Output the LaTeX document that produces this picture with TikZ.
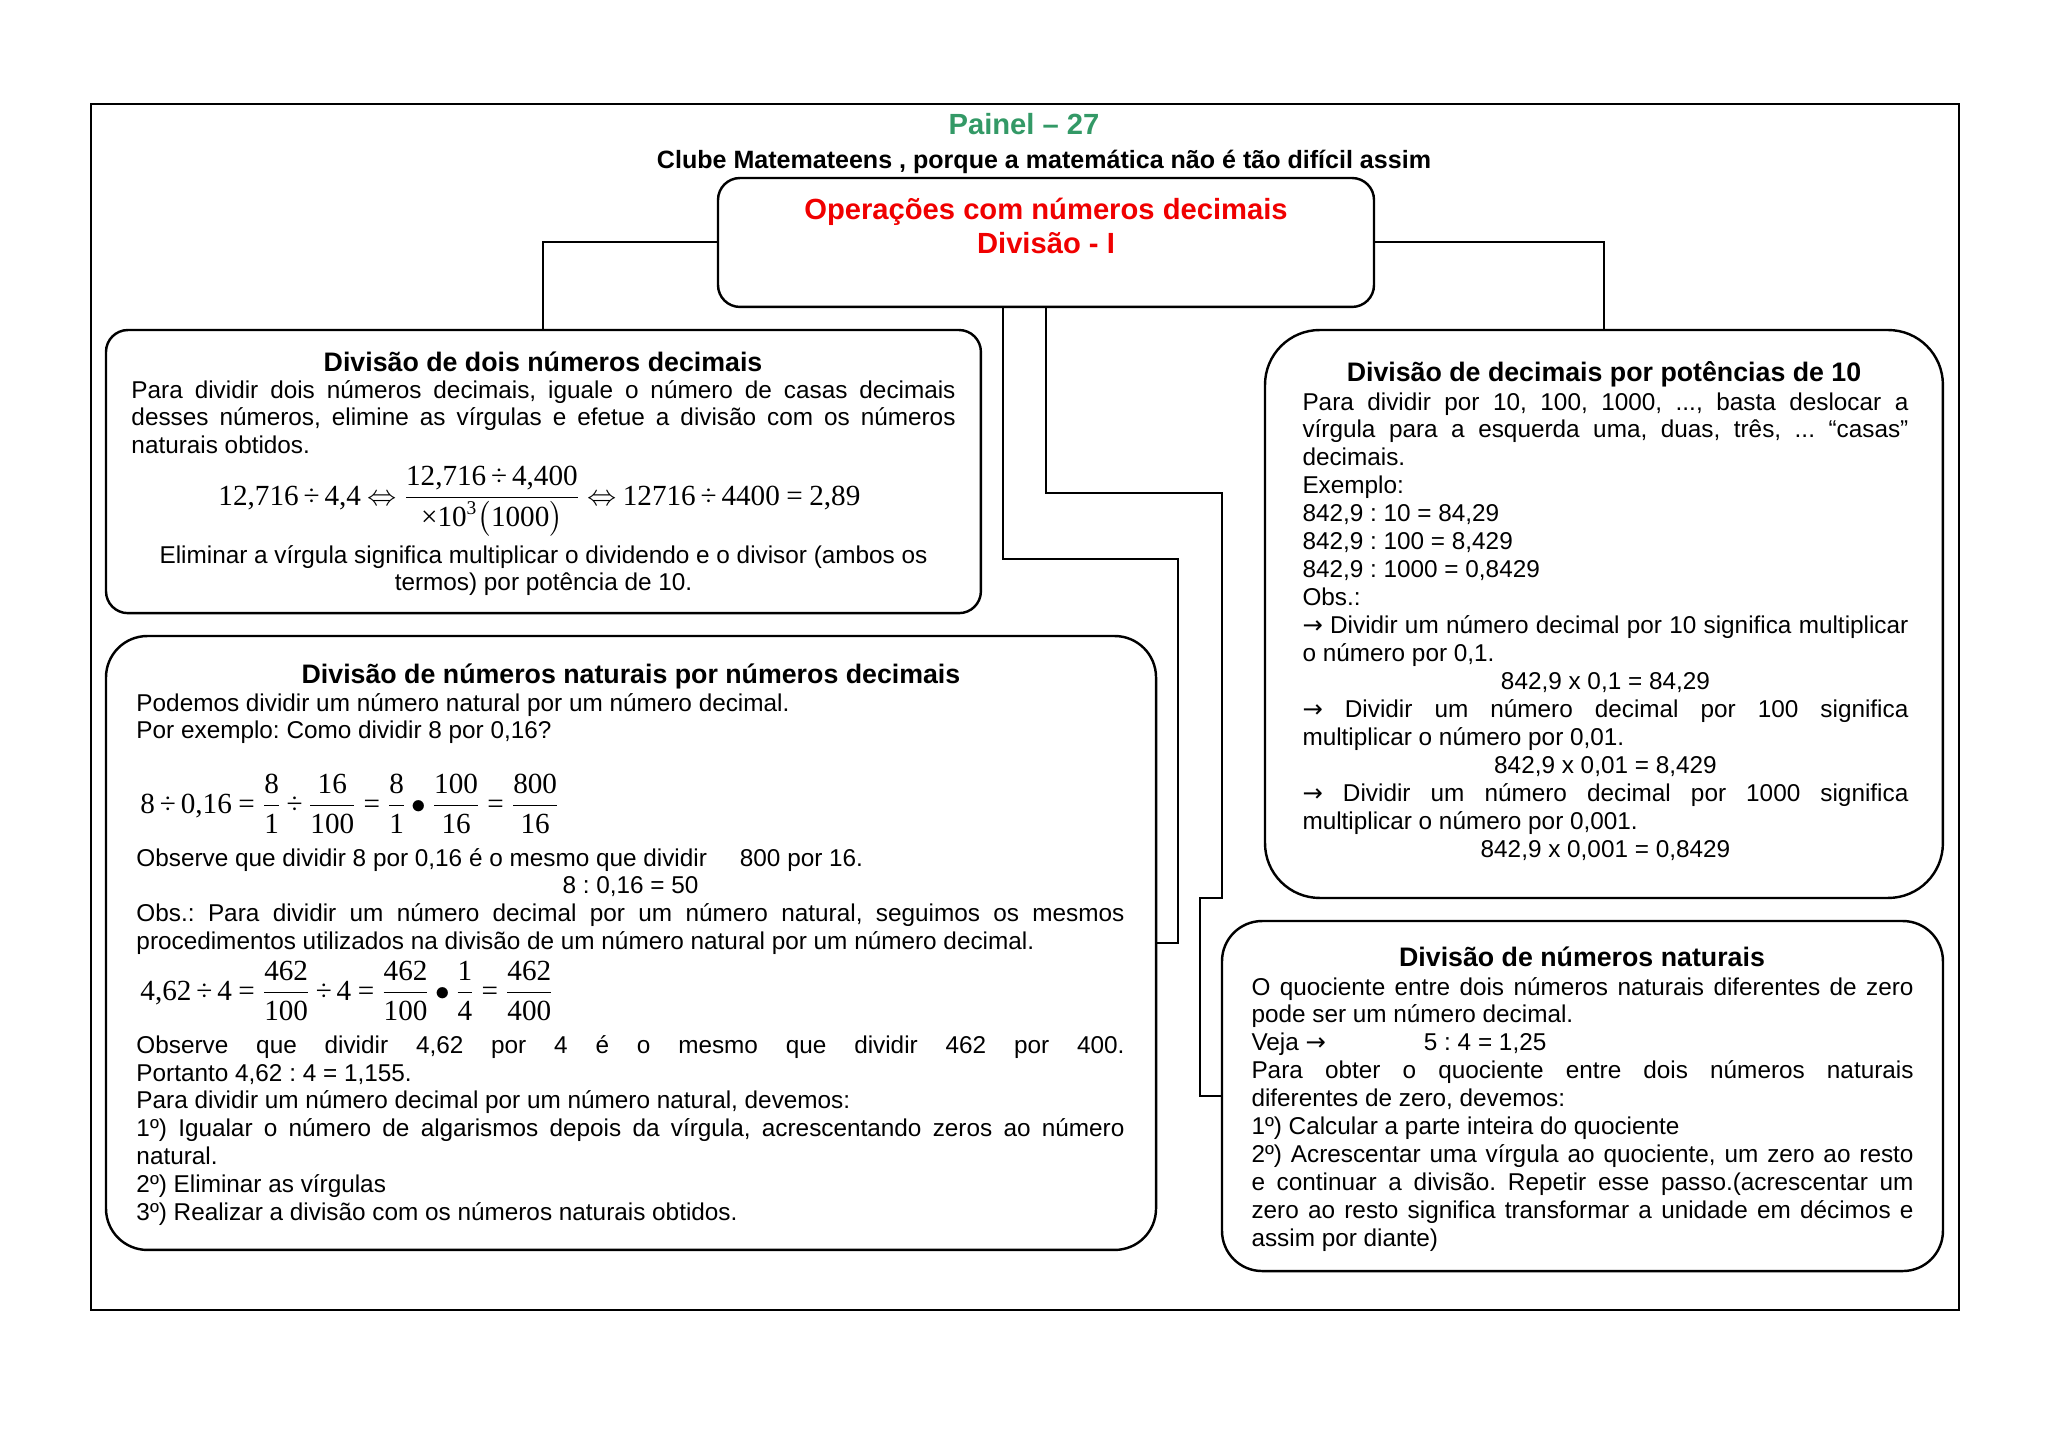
\documentclass[tikz,border=0pt]{standalone}
\usepackage{amsmath}
\usepackage{fontspec}
\setmainfont{Liberation Sans}
\newfontfamily\tnr{Liberation Serif}
\newfontfamily\dvs{DejaVu Sans}
\usetikzlibrary{calc}
\definecolor{painelgreen}{RGB}{51,153,102}
\definecolor{titlered}{RGB}{240,0,0}
\newcommand\bodyfont{\fontsize{10}{11.5}\selectfont\frenchspacing}
\newcommand\jl[1]{\makebox[\linewidth][s]{#1}\par}
\newcommand\cl[1]{\makebox[\linewidth][c]{#1}\par}
\newcommand\tn[1]{\text{\tnr #1}}
\newcommand\tdiv{\mathbin{\text{\tnr ÷}}}
\newcommand\teq{\mathrel{\text{\tnr =}}}
\newcommand\ttimes{\text{\tnr ×}}
\newcommand\rarr{{\dvs →}}
\newcommand\eqsp{\medmuskip=3mu\thickmuskip=4mu}
\begin{document}
\begin{tikzpicture}[x=0.41113pt,y=-0.41113pt,
  box/.style={draw, line width=1pt, anchor=north west, inner sep=0pt, outer sep=0pt},
  conn/.style={draw, line width=0.8pt},
  blk/.style={anchor=base west, inner sep=0pt},
  head/.style={anchor=base, inner sep=0pt, font=\fontsize{11}{13}\selectfont\bfseries},
  eqn/.style={anchor=base west, inner sep=0pt, font=\fontsize{12}{14}\selectfont},
]
\useasboundingbox (0,0) rectangle (2048,1448);

% outer frame
\node[draw, line width=0.8pt, anchor=north west, inner sep=0pt, minimum width=768.0pt, minimum height=495.8pt] (frame) at (90,103) {};

% titles
\node[anchor=base, inner sep=0pt, font=\fontsize{12}{14}\selectfont\bfseries, text=painelgreen] (title) at (1024,134) {Painel – 27};
\node[anchor=base, inner sep=0pt, font=\fontsize{10.3}{12}\selectfont\bfseries] (sub) at (1044,168) {Clube Matemateens , porque a matemática não é tão difícil assim};

% main box
\node[box, rounded corners=9pt, minimum width=269.7pt, minimum height=53.0pt] (main) at (718,178) {};
\node[anchor=base, inner sep=0pt, font=\fontsize{12}{14}\selectfont\bfseries, text=titlered] (mt1) at (1046,219) {Operações com números decimais};
\node[anchor=base, inner sep=0pt, font=\fontsize{12}{14}\selectfont\bfseries, text=titlered] (mt2) at (1046,253) {Divisão - I};

% boxes
\node[box, rounded corners=9pt, minimum width=359.7pt, minimum height=116.4pt] (b1) at (106,330) {};
\node[box, rounded corners=17pt, minimum width=431.7pt, minimum height=252.4pt] (b2) at (106,636) {};
\node[box, rounded corners=22.5pt, minimum width=278.7pt, minimum height=233.5pt] (r1) at (1265,330) {};
\node[box, rounded corners=16.5pt, minimum width=296.4pt, minimum height=143.9pt] (r2) at (1222,921) {};

% connectors
\draw[conn] (main.west) -| (b1.north);
\draw[conn] (main.east) -| (r1.north);
\coordinate (k1) at (1178,559);
\draw[conn] ($(main.south)+(-43,0)$) |- (k1) |- (b2.east);
\coordinate (k2) at (1222,493);
\coordinate (k3) at (1222,898);
\coordinate (k4) at (1200,898);
\draw[conn] (main.south) |- (k2) -- (k3) -- (k4) |- (r2.west);

% ---- Box 1
\node[head] (b1h) at (543,371) {Divisão de dois números decimais};
\node[blk] (b1t1) at (131,398) {\parbox[t]{338.8pt}{\bodyfont
\jl{Para dividir dois números decimais, iguale o número de casas decimais}
\jl{desses números, elimine as vírgulas e efetue a divisão com os números}
naturais obtidos.}};
\node[eqn] (b1eq) at (218,505) {$\eqsp\tn{12,716}\tdiv\tn{4,4}\Leftrightarrow\dfrac{\tn{12,716}\tdiv\tn{4,400}}{\ttimes\tn{10}^{\tn{3}}\bigl(\tn{1000}\bigr)}\Leftrightarrow\tn{12716}\tdiv\tn{4400}\teq\tn{2,89}$};
\node[blk] (b1t2) at (131,563) {\parbox[t]{338.8pt}{\bodyfont\centering
Eliminar a vírgula significa multiplicar o dividendo e o divisor (ambos os\par
termos) por potência de 10.\par}};

% ---- Box 2
\node[head] (b2h) at (631,683) {Divisão de números naturais por números decimais};
\node[blk] (b2t1) at (136,711) {\parbox[t]{406.2pt}{\bodyfont
Podemos dividir um número natural por um número decimal.\par
Por exemplo: Como dividir 8 por 0,16?}};
\node[eqn] (b2eq1) at (140,813) {$\eqsp\tn{8}\tdiv\tn{0,16}\teq\dfrac{\tn{8}}{\tn{1}}\tdiv\dfrac{\tn{16}}{\tn{100}}\teq\dfrac{\tn{8}}{\tn{1}}\bullet\dfrac{\tn{100}}{\tn{16}}\teq\dfrac{\tn{800}}{\tn{16}}$};
\node[blk] (b2t2) at (136,866) {\parbox[t]{406.2pt}{\bodyfont
Observe que dividir 8 por 0,16 é o mesmo que dividir\hspace{10.8pt} 800 por 16.\par
\cl{8 : 0,16 = 50}
\jl{Obs.: Para dividir um número decimal por um número natural, seguimos os mesmos}
procedimentos utilizados na divisão de um número natural por um número decimal.}};
\node[eqn] (b2eq2) at (140,1000) {$\eqsp\tn{4,62}\tdiv\tn{4}\teq\dfrac{\tn{462}}{\tn{100}}\tdiv\tn{4}\teq\dfrac{\tn{462}}{\tn{100}}\bullet\dfrac{\tn{1}}{\tn{4}}\teq\dfrac{\tn{462}}{\tn{400}}$};
\node[blk] (b2t3) at (136,1053) {\parbox[t]{406.2pt}{\bodyfont
\jl{Observe que dividir 4,62 por 4 é o mesmo que dividir 462 por 400.}
Portanto 4,62 : 4 = 1,155.\par
Para dividir um número decimal por um número natural, devemos:\par
\jl{1º) Igualar o número de algarismos depois da vírgula, acrescentando zeros ao número}
natural.\par
2º) Eliminar as vírgulas\par
3º) Realizar a divisão com os números naturais obtidos.}};

% ---- Right box 1
\node[head] (r1h) at (1604,381) {Divisão de decimais por potências de 10};
\node[blk] (r1t) at (1302,410) {\parbox[t]{249.1pt}{\bodyfont
\jl{Para dividir por 10, 100, 1000, ..., basta deslocar a}
\jl{vírgula para a esquerda uma, duas, três, ... “casas”}
decimais.\par
Exemplo:\par
842,9 : 10 = 84,29\par
842,9 : 100 = 8,429\par
842,9 : 1000 = 0,8429\par
Obs.:\par
\jl{\rarr{} Dividir um número decimal por 10 significa multiplicar}
o número por 0,1.\par
\cl{842,9 x 0,1 = 84,29}
\jl{\rarr{} Dividir um número decimal por 100 significa}
multiplicar o número por 0,01.\par
\cl{842,9 x 0,01 = 8,429}
\jl{\rarr{} Dividir um número decimal por 1000 significa}
multiplicar o número por 0,001.\par
\cl{842,9 x 0,001 = 0,8429}}};

% ---- Right box 2
\node[head] (r2h) at (1582,966) {Divisão de números naturais};
\node[blk] (r2t) at (1251,995) {\parbox[t]{272.2pt}{\bodyfont
\jl{O quociente entre dois números naturais diferentes de zero}
pode ser um número decimal.\par
\makebox[70.9pt][l]{Veja \rarr}5 : 4 = 1,25\par
\jl{Para obter o quociente entre dois números naturais}
diferentes de zero, devemos:\par
1º) Calcular a parte inteira do quociente\par
\jl{2º) Acrescentar uma vírgula ao quociente, um zero ao resto}
\jl{e continuar a divisão. Repetir esse passo.(acrescentar um}
\jl{zero ao resto significa transformar a unidade em décimos e}
assim por diante)}};
\end{tikzpicture}
\end{document}
